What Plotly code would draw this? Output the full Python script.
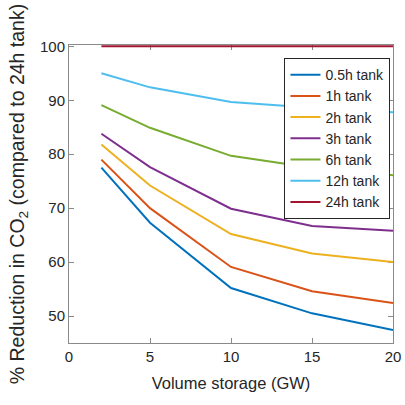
import plotly.graph_objects as go

x_gw = [2, 5, 10, 15, 20]
names = ["0.5h tank", "1h tank", "2h tank", "3h tank", "6h tank", "12h tank", "24h tank"]
s_05h = [77.5, 67.3, 55.2, 50.5, 47.4]
s_1h = [79.0, 70.0, 59.1, 54.6, 52.4]
s_2h = [81.8, 74.2, 65.2, 61.6, 60.0]
s_3h = [83.8, 77.6, 69.9, 66.7, 65.8]
s_6h = [89.1, 84.9, 79.7, 77.5, 76.1]
s_12h = [95.0, 92.4, 89.7, 88.6, 87.8]
s_24h = [100, 100, 100, 100, 100]
series = [s_05h, s_1h, s_2h, s_3h, s_6h, s_12h, s_24h]
colors = ["#0072BD", "#D95319", "#EDB120", "#7E2F8E", "#77AC30", "#4DBEEE", "#A2142F"]

fig = go.Figure()
for i, (n, s, c) in enumerate(zip(names, series, colors)):
    fig.add_trace(go.Scatter(x=x_gw, y=s, mode="lines", name=n, legendgroup=f"g{i}",
                             line=dict(color=c, width=2), cliponaxis=False))

axis_common = dict(showline=True, linecolor="#8a8a8a", linewidth=1, mirror="ticks",
                   ticks="inside", ticklen=5, tickcolor="#8a8a8a", showgrid=False,
                   zeroline=False, layer="below traces", automargin=False,
                   tickfont=dict(size=15, color="#262626"))

fig.update_layout(
    width=405, height=405,
    margin=dict(l=69, r=12, t=45, b=62, autoexpand=False),
    paper_bgcolor="white", plot_bgcolor="white",
    font=dict(family="Liberation Sans, Arial, sans-serif", color="#262626"),
    xaxis=dict(range=[0, 20], tickvals=[0, 5, 10, 15, 20],
               title=dict(text="Volume storage (GW)", font=dict(size=16.5), standoff=13),
               **axis_common),
    yaxis=dict(range=[45, 100.25], tickvals=[50, 60, 70, 80, 90, 100],
               title=dict(text="% Reduction in CO<sub>2</sub> (compared to 24h tank)",
                          font=dict(size=19.5), standoff=10),
               **axis_common),
    legend=dict(x=0.665, y=0.956, xanchor="left", yanchor="top",
                bgcolor="white", bordercolor="#262626", borderwidth=1,
                font=dict(size=14, color="#262626"), tracegroupgap=0,
                itemwidth=30),
    showlegend=True,
)

fig.write_html("out.html")
